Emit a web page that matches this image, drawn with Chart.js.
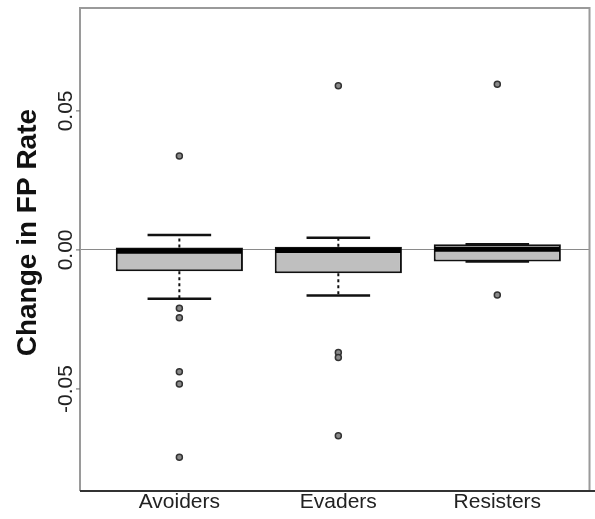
<!DOCTYPE html>
<html>
<head>
<meta charset="utf-8">
<script src="https://cdn.jsdelivr.net/npm/chart.js@4.4.1/dist/chart.umd.min.js"></script>
<style>
  body { margin: 0; background: #fff; }
  canvas { display: block; }
</style>
</head>
<body>
<canvas id="chart" width="595" height="519"></canvas>
<script>
// boxplot summary per group
const categories = ["Avoiders", "Evaders", "Resisters"];
const q1 = [-0.0077, -0.0084, -0.0042];
const q3 = [0.0009, 0.0011, 0.0020];
const medians = [-0.0005, -0.0002, 0.0002];
const whiskerLow = [-0.0176, -0.0164, -0.0042];
const whiskerHigh = [0.0054, 0.0044, 0.0020];
const outliers = [
  [0.0338, -0.0210, -0.0244, -0.0438, -0.0482, -0.0746],
  [0.0590, -0.0369, -0.0387, -0.0668],
  [0.0596, -0.0162]
];
const yTicks = [-0.05, 0, 0.05];
const yLabel = "Change in FP Rate";

const fmt = v => v.toFixed(2);

const outlierPoints = [];
outliers.forEach((list, i) => {
  list.forEach(v => outlierPoints.push({ x: i + 1, y: v }));
});

// whiskers, caps, medians, frame and rotated text
const boxExtras = {
  id: "boxExtras",
  afterDatasetsDraw(chart) {
    const ctx = chart.ctx;
    const xs = chart.scales.x;
    const ys = chart.scales.y;
    const bars = chart.getDatasetMeta(0).data;
    ctx.save();
    categories.forEach((c, i) => {
      const cx = xs.getPixelForValue(i + 1);
      const capHalf = xs.getPixelForValue(i + 1.2) - cx;
      // dashed whisker stems
      ctx.strokeStyle = "#111";
      ctx.lineWidth = 2;
      ctx.setLineDash([3, 3]);
      ctx.beginPath();
      ctx.moveTo(cx, ys.getPixelForValue(q3[i]));
      ctx.lineTo(cx, ys.getPixelForValue(whiskerHigh[i]));
      ctx.moveTo(cx, ys.getPixelForValue(q1[i]));
      ctx.lineTo(cx, ys.getPixelForValue(whiskerLow[i]));
      ctx.stroke();
      ctx.setLineDash([]);
      // caps
      ctx.lineWidth = 2.5;
      ctx.beginPath();
      [whiskerHigh[i], whiskerLow[i]].forEach(v => {
        const y = ys.getPixelForValue(v);
        ctx.moveTo(cx - capHalf, y);
        ctx.lineTo(cx + capHalf, y);
      });
      ctx.stroke();
      // median
      const bar = bars[i];
      const half = bar.width / 2;
      ctx.lineWidth = 5;
      ctx.strokeStyle = "#000";
      ctx.beginPath();
      const my = ys.getPixelForValue(medians[i]);
      ctx.moveTo(bar.x - half + 1, my);
      ctx.lineTo(bar.x + half - 1, my);
      ctx.stroke();
    });
    ctx.restore();
  },
  afterDraw(chart) {
    const ctx = chart.ctx;
    const a = chart.chartArea;
    const ys = chart.scales.y;
    ctx.save();
    // frame: grey on three sides, dark base line
    ctx.strokeStyle = "#9a9a9a";
    ctx.lineWidth = 2;
    ctx.beginPath();
    ctx.moveTo(a.left, a.bottom);
    ctx.lineTo(a.left, a.top);
    ctx.lineTo(a.right, a.top);
    ctx.lineTo(a.right, a.bottom);
    ctx.stroke();
    ctx.strokeStyle = "#333";
    ctx.beginPath();
    ctx.moveTo(a.left, a.bottom);
    ctx.lineTo(chart.width, a.bottom);
    ctx.stroke();
    // y tick marks and rotated labels
    ctx.fillStyle = "#222";
    ctx.strokeStyle = "#666";
    ctx.lineWidth = 1;
    ctx.font = "21px 'Liberation Sans', Arial, sans-serif";
    ctx.textAlign = "center";
    ctx.textBaseline = "alphabetic";
    yTicks.forEach(v => {
      const y = ys.getPixelForValue(v);
      ctx.beginPath();
      ctx.moveTo(a.left - 4, y);
      ctx.lineTo(a.left, y);
      ctx.stroke();
      ctx.save();
      ctx.translate(a.left - 8, y);
      ctx.rotate(-Math.PI / 2);
      ctx.fillText(fmt(v), 0, 0);
      ctx.restore();
    });
    // axis title
    ctx.font = "bold 28px 'Liberation Sans', Arial, sans-serif";
    ctx.fillStyle = "#111";
    ctx.translate(36, a.top + (a.bottom - a.top) * 0.465);
    ctx.rotate(-Math.PI / 2);
    ctx.fillText(yLabel, 0, 0);
    ctx.restore();
  }
};

new Chart(document.getElementById("chart"), {
  data: {
    datasets: [
      {
        type: "bar",
        data: categories.map((c, i) => ({ x: i + 1, y: [q1[i], q3[i]] })),
        backgroundColor: "#bfbfbf",
        borderColor: "#111",
        borderWidth: 2,
        borderSkipped: false,
        barPercentage: 1,
        categoryPercentage: 0.8
      },
      {
        type: "scatter",
        data: outlierPoints,
        pointRadius: 3,
        pointBorderWidth: 1.5,
        pointBackgroundColor: "#8a8a8a",
        pointBorderColor: "#333"
      }
    ]
  },
  options: {
    responsive: false,
    animation: false,
    layout: { padding: { top: 8, right: 2, left: 0, bottom: 0 } },
    plugins: { legend: { display: false }, tooltip: { enabled: false } },
    scales: {
      x: {
        type: "linear",
        offset: false,
        min: 0.375,
        max: 3.58,
        afterBuildTicks: s => { s.ticks = categories.map((c, i) => ({ value: i + 1 })); },
        afterFit: s => { s.height = 28; },
        grid: { display: false, drawTicks: false },
        border: { display: false },
        ticks: {
          padding: -1,
          color: "#222",
          font: { family: "'Liberation Sans', Arial, sans-serif", size: 21 },
          callback: v => categories[v - 1]
        }
      },
      y: {
        min: -0.0867,
        max: 0.087,
        afterBuildTicks: s => { s.ticks = yTicks.map(v => ({ value: v })); },
        afterFit: s => { s.width = 80; },
        border: { display: false },
        grid: {
          drawTicks: false,
          color: c => (c.tick && c.tick.value === 0 ? "#8a8a8a" : "rgba(0,0,0,0)"),
          lineWidth: 1
        },
        ticks: { display: false }
      }
    }
  },
  plugins: [boxExtras]
});
</script>
</body>
</html>
